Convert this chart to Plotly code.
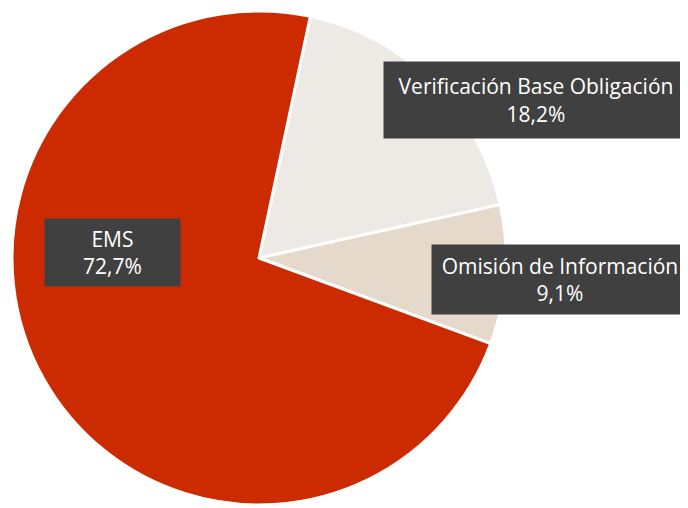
import plotly.graph_objects as go

# Data
labels = ["Verificación Base Obligación", "Omisión de Información", "EMS"]
values = [18.2, 9.1, 72.7]
colors = ["#EDEAE6", "#E5D9CB", "#CC2A00"]

# figure size; the page body adds an 8px margin around it
W, H = 680, 500

# label boxes: centre (px from top-left of figure) and size (px)
box_cx = [528, 552, 104.5]
box_cy = [92, 271.5, 244.5]
box_w = [304, 256, 135]
box_h = [76, 69, 67]

fig = go.Figure()
fig.add_trace(go.Pie(
    labels=labels,
    values=values,
    sort=False,
    direction="clockwise",
    rotation=12,
    marker=dict(colors=colors, line=dict(color="white", width=3)),
    textinfo="none",
    hoverinfo="label+percent",
    domain=dict(x=[4 / W, 498 / W], y=[3 / H, 497 / H]),
    showlegend=False,
))

total = sum(values)
for lab, v, cx, cy, w, h in zip(labels, values, box_cx, box_cy, box_w, box_h):
    pct = f"{100 * v / total:.1f}".replace(".", ",")
    fig.add_annotation(
        x=cx / W, y=1 - cy / H, xref="paper", yref="paper",
        xanchor="center", yanchor="middle",
        text=f"{lab}<br>{pct}%",
        showarrow=False,
        font=dict(family="Open Sans", size=21, color="white"),
        bgcolor="#404040",
        width=w, height=h,
        borderpad=0,
        align="center",
    )

fig.update_layout(
    width=W, height=H,
    margin=dict(l=0, r=0, t=0, b=0),
    paper_bgcolor="white",
    plot_bgcolor="white",
)

fig.write_html("out.html")
